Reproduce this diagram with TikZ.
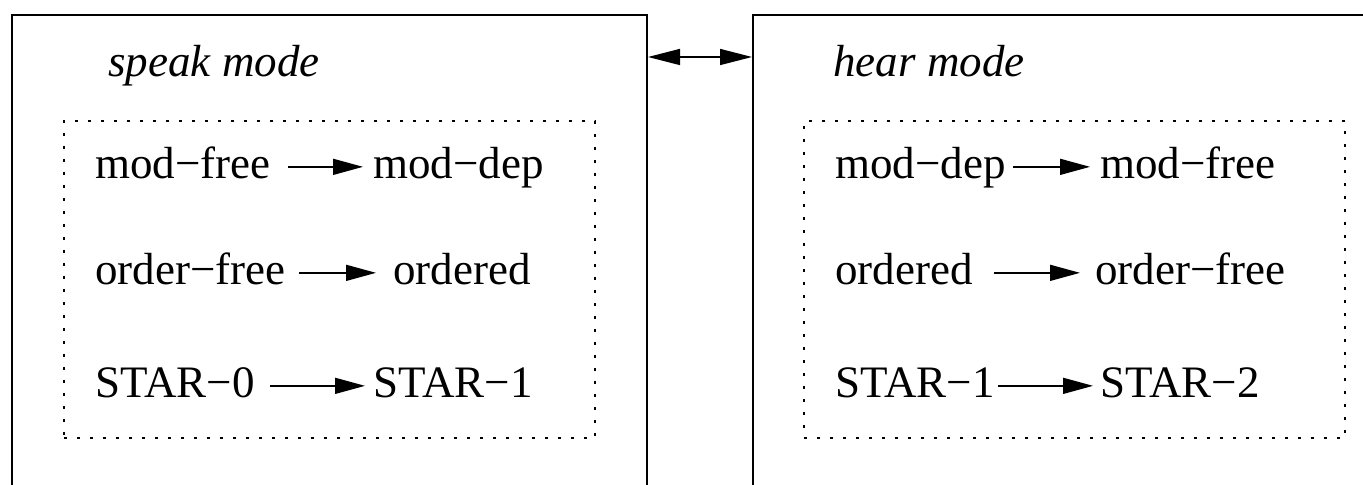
\documentclass[tikz,border=0pt]{standalone}
\usepackage{fontspec}
\setmainfont{Liberation Serif}
\usetikzlibrary{arrows.meta,positioning}

\begin{document}
\begin{tikzpicture}[x=0.5pt,y=-0.5pt,
	frame/.style={draw, line width=1pt, anchor=north west, inner sep=0pt},
	group/.style={draw, line width=1pt, dash pattern=on 1.5pt off 5pt, anchor=north west, inner sep=0pt},
	title/.style={font=\fontsize{22.5}{27}\selectfont\itshape, anchor=base west, inner sep=0pt},
	word/.style={font=\fontsize{22.5}{27}\selectfont, anchor=base west, inner sep=0pt, text height=15.75pt, text depth=3.6pt},
	flow/.style={-{Triangle[length=15pt,width=8pt]}, line width=0.75pt},
	link/.style={{Triangle[length=16pt,width=8pt]}-{Triangle[length=16pt,width=8pt]}, line width=0.75pt}]
	\useasboundingbox (0,0) rectangle (1363,485);
	\clip (0,0) rectangle (1363,485);
	
	% the two modes
	\node[frame, minimum width=317.5pt, minimum height=300pt] (speak) at (11,14) {};
	\node[frame, minimum width=350pt, minimum height=300pt] (hear) at (752,14) {};
	\coordinate (mid) at (699,57);
	\draw[link] (mid -| speak.east) -- (mid -| hear.west);
	
	\node[title] (speaktitle) at (108,77) {speak mode};
	\node[title] (heartitle) at (833,77) {hear mode};
	
	\node[group, minimum width=265.5pt, minimum height=158.5pt] (speakgroup) at (63,120) {};
	\node[group, minimum width=270.5pt, minimum height=158.5pt] (heargroup) at (803,120) {};
	
	% speak mode
	\node[word] (sfree) at (95,179) {mod−free};
	\node[word] (sdep) at (373,179) {mod−dep};
	\node[word] (sunord) at (95,285) {order−free};
	\node[word] (sord) at (393,285) {ordered};
	\node[word] (szero) at (95,398) {STAR−0};
	\node[word] (sone) at (373,398) {STAR−1};
	
	% hear mode
	\node[word] (hdep) at (835,179) {mod−dep};
	\node[word] (hfree) at (1100,179) {mod−free};
	\node[word] (hord) at (835,285) {ordered};
	\node[word] (hunord) at (1095,285) {order−free};
	\node[word] (hone) at (835,398) {STAR−1};
	\node[word] (htwo) at (1100,398) {STAR−2};
	
	\draw[flow, shorten <=8.5pt, shorten >=5pt] (sfree) -- (sdep);
	\draw[flow, shorten <=6.5pt, shorten >=8.5pt] (sunord) -- (sord);
	\draw[flow, shorten <=7.5pt, shorten >=4pt] (szero) -- (sone);
	\draw[flow, shorten <=3.5pt, shorten >=5pt] (hdep) -- (hfree);
	\draw[flow, shorten <=10.5pt, shorten >=7.5pt] (hord) -- (hunord);
	\draw[flow, shorten <=1.5pt, shorten >=3.5pt] (hone) -- (htwo);
\end{tikzpicture}
\end{document}
